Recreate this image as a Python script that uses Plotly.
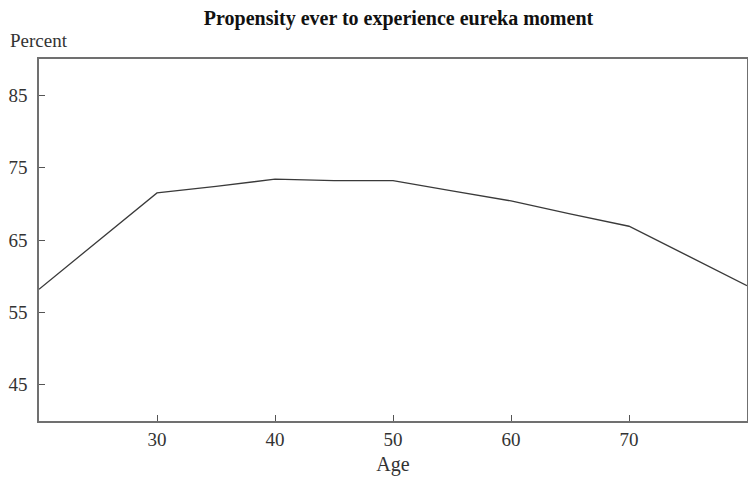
import plotly.graph_objects as go

ages = [20, 25, 30, 35, 40, 45, 50, 55, 60, 65, 70, 75, 80]
percent = [58.2, 64.8, 71.5, 72.4, 73.4, 73.2, 73.2, 71.8, 70.4, 68.6, 66.9, 62.8, 58.7]
x_ticks = [30, 40, 50, 60, 70]
y_ticks = [45, 55, 65, 75, 85]

fig = go.Figure()
fig.add_trace(go.Scatter(x=ages, y=percent, mode="lines",
                         line=dict(color="#3a3a3a", width=1.3), showlegend=False,
                         cliponaxis=False))

font_family = "Liberation Serif, Times New Roman, serif"
axis_common = dict(showgrid=False, zeroline=False, showline=True, linecolor="#707070",
                   linewidth=1.6, mirror=True, ticks="inside", ticklen=6,
                   tickcolor="#555555", tickwidth=1.2,
                   tickfont=dict(family=font_family, size=19, color="#333333"))

fig.update_xaxes(range=[20, 80], tickvals=x_ticks, ticklabelstandoff=0, **axis_common,
                 title=dict(text="Age", font=dict(family=font_family, size=20, color="#333333"),
                            standoff=8))
fig.update_yaxes(range=[40, 90], tickvals=y_ticks, ticklabelstandoff=6, **axis_common)

fig.update_layout(
    width=748, height=477,
    margin=dict(l=39, r=1, t=59, b=56, autoexpand=False),
    plot_bgcolor="white", paper_bgcolor="white",
    title=dict(text="<b>Propensity ever to experience eureka moment</b>",
               font=dict(family=font_family, size=20, color="#111111"),
               x=398.5 / 748, xanchor="center", y=1 - 18 / 477, yanchor="middle"),
    annotations=[dict(text="Percent", xref="paper", yref="paper",
                      x=(8 - 39) / 708, y=(421 - 40) / 362,
                      xanchor="left", yanchor="middle", showarrow=False,
                      font=dict(family=font_family, size=19, color="#333333"))],
)

fig.write_html("out.html", config={"displayModeBar": False},
               post_script="document.body.style.margin='0';document.body.style.overflow='hidden';")
